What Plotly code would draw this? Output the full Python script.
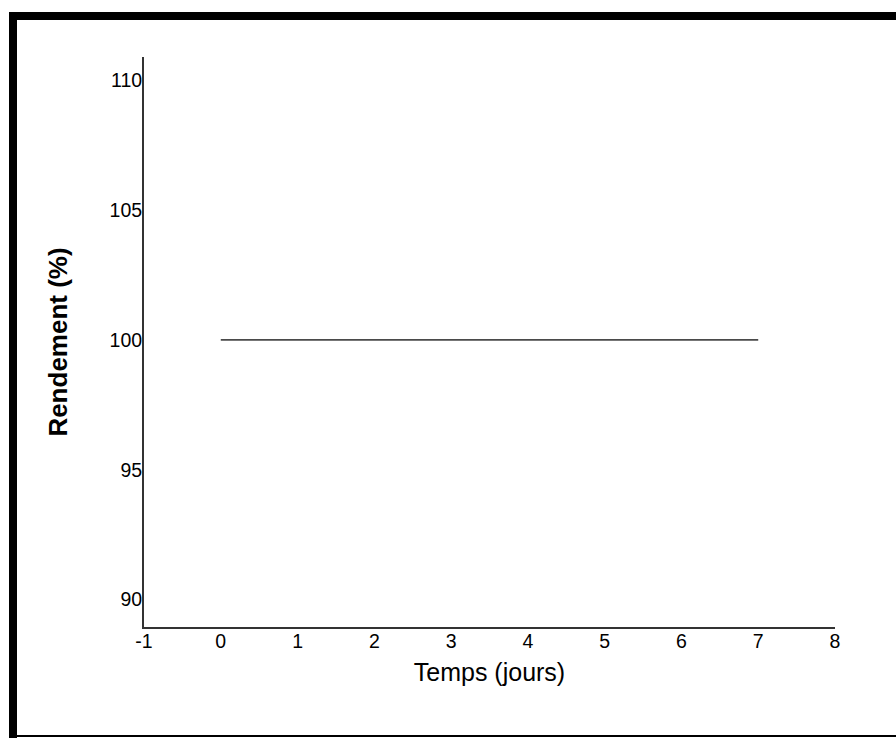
import plotly.graph_objects as go

# Data
jours = [0, 7]
rendement = [100, 100]
x_ticks = [-1, 0, 1, 2, 3, 4, 5, 6, 7, 8]
y_ticks = [90, 95, 100, 105, 110]

W, H = 896, 738
L, R, T, B = 144, 61, 57, 111
pw, ph = W - L - R, H - T - B

def px_x(p):
    return (p - L) / pw

def px_y(p):
    return (H - B - p) / ph

fig = go.Figure()
fig.add_trace(go.Scatter(x=jours, y=rendement, mode="lines",
                         line=dict(color="#4a4a4a", width=1.6),
                         showlegend=False, hoverinfo="skip"))

font = "Liberation Sans, Arial, sans-serif"
fig.update_layout(
    width=W, height=H,
    margin=dict(l=L, r=R, t=T, b=B),
    paper_bgcolor="white", plot_bgcolor="white",
    font=dict(family=font, color="black"),
    xaxis=dict(range=[-1, 8], tickvals=x_ticks, ticktext=[str(v) for v in x_ticks],
               showgrid=False, zeroline=False, showline=True, linecolor="#333333",
               linewidth=2, ticks="", tickfont=dict(size=19.5, family=font),
               ticklabelstandoff=-4,
               title=dict(text="Temps (jours)", font=dict(size=25, family=font), standoff=12)),
    yaxis=dict(range=[88.94, 110.9], tickvals=y_ticks, ticktext=[str(v) for v in y_ticks],
               showgrid=False, zeroline=False, showline=True, linecolor="#333333",
               linewidth=2, ticks="", tickfont=dict(size=19.5, family=font),
               ticklabelstandoff=-4,
               title=dict(text="<b>Rendement (%)</b>", font=dict(size=26, family=font), standoff=34)),
)

# Black frame pieces (top, left, bottom)
shapes = [
    dict(type="rect", xref="paper", yref="paper", x0=px_x(9), x1=px_x(W + 5),
         y0=px_y(20), y1=px_y(12), fillcolor="black", line=dict(width=0)),
    dict(type="rect", xref="paper", yref="paper", x0=px_x(9), x1=px_x(17),
         y0=px_y(738), y1=px_y(12), fillcolor="black", line=dict(width=0)),
    dict(type="rect", xref="paper", yref="paper", x0=px_x(9), x1=px_x(W + 5),
         y0=px_y(737), y1=px_y(735), fillcolor="black", line=dict(width=0)),
]
fig.update_layout(shapes=shapes)

fig.write_html("out.html")
